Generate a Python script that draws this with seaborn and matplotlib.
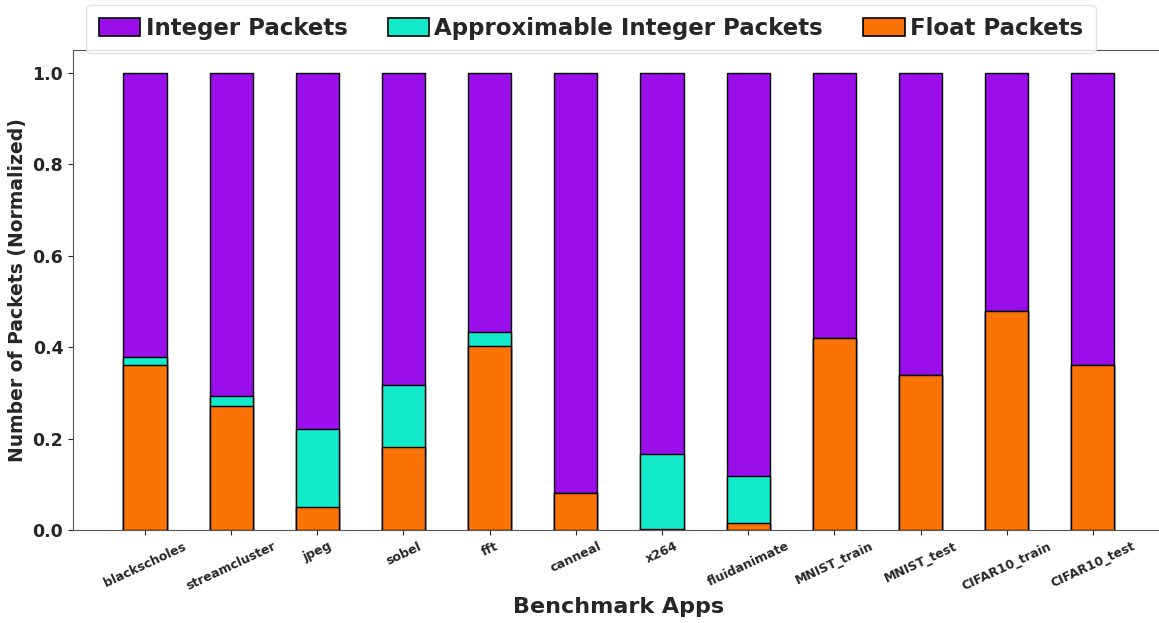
import matplotlib
matplotlib.use("Agg")
import matplotlib.pyplot as plt
import seaborn as sns
import numpy as np
import pandas as pd
from matplotlib.patches import Patch

apps = ["blackscholes", "streamcluster", "jpeg", "sobel", "fft", "canneal",
        "x264", "fluidanimate", "MNIST_train", "MNIST_test", "CIFAR10_train",
        "CIFAR10_test"]
float_pk = [0.361, 0.272, 0.051, 0.182, 0.402, 0.081, 0.003, 0.015, 0.420, 0.340, 0.478, 0.361]
approx_pk = [0.017, 0.021, 0.171, 0.135, 0.031, 0.000, 0.164, 0.103, 0.000, 0.000, 0.000, 0.000]
integer_pk = [0.622, 0.707, 0.778, 0.683, 0.567, 0.919, 0.833, 0.882, 0.580, 0.660, 0.522, 0.639]

series_names = ["Integer Packets", "Approximable Integer Packets", "Float Packets"]
colors = ["#9a0eea", "#13eac9", "#f97306"]

sns.set_style("ticks")
plt.rcParams["font.family"] = ["DejaVu Sans"]
plt.rcParams["font.weight"] = "bold"

df = pd.DataFrame({"app": apps, "float": float_pk, "approx": approx_pk, "integer": integer_pk})
df["top_int"] = df["float"] + df["approx"] + df["integer"]
df["top_approx"] = df["float"] + df["approx"]
df["top_float"] = df["float"]

fig = plt.figure(figsize=(11.59, 6.23), dpi=100)
ax = fig.add_axes([73 / 1159, 1 - 530 / 623, (1164 - 73) / 1159, (530 - 50) / 623])

# stacked bars drawn back-to-front from cumulative tops
for col, c in zip(["top_int", "top_approx", "top_float"], colors):
    sns.barplot(data=df, x="app", y=col, color=c, width=0.5, edgecolor="black",
                linewidth=1.0, saturation=1, ax=ax)

ax.set_ylim(0, 1.05)
ax.set_xlim(-0.835, 11.825)
ax.set_yticks([0, 0.2, 0.4, 0.6, 0.8, 1.0])
ax.set_yticklabels([f"{v:.1f}" for v in [0, 0.2, 0.4, 0.6, 0.8, 1.0]],
                   fontsize=12.5, fontweight="bold")
ax.set_xticks(range(len(apps)))
ax.set_xticklabels(apps, rotation=25, fontsize=9, fontweight="bold")
ax.set_xlabel("Benchmark Apps", fontsize=16, fontweight="bold", labelpad=3)
ax.set_ylabel("Number of Packets (Normalized)", fontsize=13.5, fontweight="bold", labelpad=4)
for s in ax.spines.values():
    s.set_color("#555555")
    s.set_linewidth(0.8)

handles = [Patch(facecolor=c, edgecolor="black", linewidth=1.2) for c in colors]
fig.legend(handles, series_names, loc="upper center", ncol=3,
           bbox_to_anchor=(591 / 1159, 1 - 0 / 623), frameon=True, fancybox=True,
           prop={"weight": "bold", "size": 16.5},
           handlelength=1.8, handleheight=0.8, handletextpad=0.25, columnspacing=1.75,
           borderpad=0.55, borderaxespad=0.2, edgecolor="#dddddd")

fig.savefig("out.png", dpi=100)
